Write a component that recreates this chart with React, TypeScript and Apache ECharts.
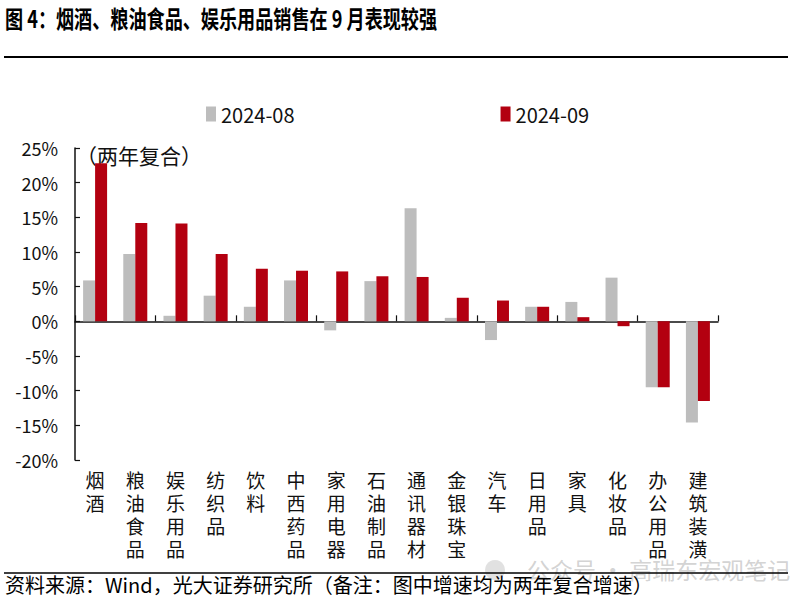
import React, { useEffect, useRef } from "react";
import * as echarts from "echarts";

const categories = ["烟酒", "粮油食品", "娱乐用品", "纺织品", "饮料", "中西药品", "家用电器", "石油制品", "通讯器材", "金银珠宝", "汽车", "日用品", "家具", "化妆品", "办公用品", "建筑装潢"];
const aug2024 = [5.9, 9.7, 0.8, 3.7, 2.1, 5.9, -1.3, 5.8, 16.3, 0.5, -2.7, 2.1, 2.8, 6.3, -9.5, -14.6];
const sep2024 = [22.8, 14.2, 14.1, 9.7, 7.6, 7.3, 7.2, 6.5, 6.4, 3.4, 3.0, 2.1, 0.6, -0.7, -9.5, -11.5];
const seriesNames = ["2024-08", "2024-09"];
const titleText = "图 4：烟酒、粮油食品、娱乐用品销售在 9 月表现较强";
const unitText = "（两年复合）";
const sourceText = "资料来源：Wind，光大证券研究所（备注：图中增速均为两年复合增速）";
const watermarkText = "公众号 · 高瑞东宏观笔记";

const FONT = '"Noto Sans CJK SC", "Noto Sans", sans-serif';

export default function App() {
  const ref = useRef<HTMLDivElement>(null);
  useEffect(() => {
    if (!ref.current) return;
    const chart = echarts.init(ref.current, null, { renderer: "svg" });
    chart.setOption({
      animation: false,
      textStyle: { fontFamily: FONT },
      grid: { left: 75, right: 82, top: 148, bottom: 144 },
      legend: {
        data: seriesNames,
        left: 201,
        top: 99,
        itemGap: 206,
        itemWidth: 10,
        itemHeight: 15,
        icon: "rect",
        textStyle: { fontSize: 20, color: "#111", fontFamily: FONT },
      },
      xAxis: [
        {
          type: "category",
          data: categories,
          position: "bottom",
          axisLine: { show: false, onZero: false },
          axisTick: { show: false },
          axisLabel: {
            interval: 0,
            formatter: (v: string) => v.split("").join("\n"),
            fontSize: 19,
            lineHeight: 23,
            color: "#111",
            margin: 8,
            verticalAlign: "top",
            fontFamily: FONT,
          },
        },
        {
          type: "category",
          data: categories,
          position: "bottom",
          axisLine: { show: true, onZero: true, lineStyle: { color: "#111", width: 1.5 } },
          axisTick: { show: true, inside: true, length: 6, lineStyle: { color: "#111", width: 1.2 } },
          axisLabel: { show: false },
        },
      ],
      yAxis: {
        type: "value",
        min: -20,
        max: 25,
        interval: 5,
        axisLine: { show: true, lineStyle: { color: "#111", width: 1.5 } },
        axisTick: { show: true, inside: true, length: 5, lineStyle: { color: "#111", width: 1.2 } },
        splitLine: { show: false },
        axisLabel: { formatter: "{value}%", fontSize: 18, color: "#111", margin: 17, fontFamily: FONT },
      },
      series: [
        {
          name: seriesNames[0],
          type: "bar",
          xAxisIndex: 0,
          data: aug2024,
          barWidth: 12,
          barGap: "0%",
          itemStyle: { color: "#BDBDBD" },
        },
        {
          name: seriesNames[1],
          type: "bar",
          xAxisIndex: 0,
          data: sep2024,
          barWidth: 12,
          barGap: "0%",
          itemStyle: { color: "#B30010" },
        },
      ],
      graphic: [
        {
          type: "text",
          x: 5,
          y: 5,
          scaleX: 0.755,
          style: { text: titleText, fontSize: 24, fontWeight: "bold", fill: "#000", fontFamily: FONT },
        },
        {
          type: "line",
          shape: { x1: 4, y1: 57, x2: 788, y2: 57 },
          style: { stroke: "#000", lineWidth: 2 },
        },
        {
          type: "text",
          x: 76,
          y: 144,
          style: { text: unitText, fontSize: 21, fill: "#111", fontFamily: FONT },
        },
        {
          type: "circle",
          shape: { cx: 495, cy: 570, r: 10 },
          style: { fill: "#d4d4d4", opacity: 0.7 },
        },
        {
          type: "text",
          x: 527,
          y: 557,
          style: { text: watermarkText, fontSize: 23, fill: "#c8c8c8", opacity: 0.8, fontFamily: FONT },
        },
        {
          type: "line",
          shape: { x1: 4, y1: 573, x2: 788, y2: 573 },
          style: { stroke: "#000", lineWidth: 1.5 },
        },
        {
          type: "text",
          x: 5,
          y: 574,
          style: { text: sourceText, fontSize: 20, fill: "#000", fontFamily: FONT },
        },
      ],
    });
    return () => chart.dispose();
  }, []);
  return (
    <div
      ref={ref}
      style={{ position: "fixed", left: 0, top: 0, width: 800, height: 604, background: "#fff" }}
    />
  );
}
